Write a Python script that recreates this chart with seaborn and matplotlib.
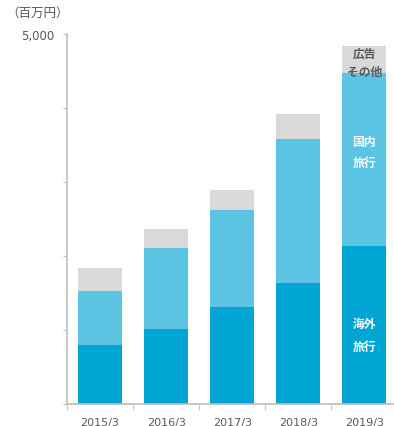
import matplotlib
matplotlib.use("Agg")
import matplotlib.pyplot as plt
import seaborn as sns
import pandas as pd

years = ["2015/3", "2016/3", "2017/3", "2018/3", "2019/3"]
overseas = [797, 1014, 1311, 1635, 2135]
domestic = [730, 1094, 1311, 1946, 2338]
other = [311, 257, 270, 338, 365]

sns.set_style("white")
plt.rcParams["font.family"] = ["DejaVu Sans", "Noto Sans CJK JP"]
jp = ["Noto Sans CJK JP", "DejaVu Sans"]

df = pd.DataFrame({"year": years, "overseas": overseas,
                   "domestic": domestic, "other": other})
df["b2"] = df["overseas"] + df["domestic"]

fig = plt.figure(figsize=(3.94, 4.27), dpi=100)
ax = fig.add_axes([0.170, 0.0515, 0.83, 0.867])

w = 0.67
sns.barplot(data=df, x="year", y="overseas", color="#00A5D4", width=w,
            saturation=1, linewidth=0, ax=ax)
sns.barplot(data=df, x="year", y="domestic", color="#5BC4E3", width=w,
            saturation=1, linewidth=0, bottom=df["overseas"], ax=ax)
sns.barplot(data=df, x="year", y="other", color="#D9D9D9", width=w,
            saturation=1, linewidth=0, bottom=df["b2"], ax=ax)

ax.set_xlim(-0.5, 4.45)
ax.set_ylim(0, 5000)
ax.set_xlabel("")
ax.set_ylabel("")

grey = "#bfbfbf"
for s in ["top", "right"]:
    ax.spines[s].set_visible(False)
for s in ["left", "bottom"]:
    ax.spines[s].set_color(grey)
    ax.spines[s].set_linewidth(1.2)

ax.set_yticks([0, 1000, 2000, 3000, 4000, 5000])
ax.set_yticklabels(["", "", "", "", "", "5,000"])
ax.tick_params(axis="y", left=True, length=3, color=grey, labelsize=8.5,
               labelcolor="#595959", pad=6)
ax.set_xticks([0, 1, 2, 3, 4])
ax.set_xticklabels(years)
ax.set_xticks([-0.5, 0.5, 1.5, 2.5, 3.5], minor=True)
ax.tick_params(axis="x", which="major", bottom=False, labelsize=8,
               labelcolor="#595959", pad=6)
ax.tick_params(axis="x", which="minor", bottom=True, length=4, color=grey)

fig.text(0.015, 0.968, "（百万円）", fontsize=9, color="#595959", family=jp,
         ha="left", va="center")

last = 4
ax.text(last, df["b2"][last] + other[last] / 2 - 40, "広告\nその他",
        ha="center", va="center", fontsize=8.5, color="#595959",
        family=jp, fontweight="bold", linespacing=1.5)
ax.text(last, overseas[last] + domestic[last] / 2 + 100, "国内\n旅行",
        ha="center", va="center", fontsize=8.5, color="white",
        family=jp, fontweight="bold", linespacing=1.8)
ax.text(last, overseas[last] / 2 - 135, "海外\n旅行",
        ha="center", va="center", fontsize=8.5, color="white",
        family=jp, fontweight="bold", linespacing=2.0)

fig.savefig("out.png", dpi=100)
